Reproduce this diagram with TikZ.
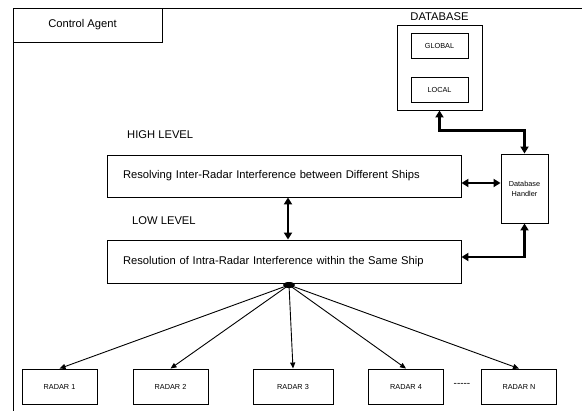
\documentclass[tikz,border=0pt]{standalone}
\usepackage{fontspec}
\setmainfont{Liberation Sans}
\usetikzlibrary{positioning, shapes.geometric, arrows.meta}

\tikzset{
  box/.style={draw, rectangle, line width=0.9pt, inner sep=0pt, align=center},
  bigtext/.style={font=\fontsize{11.2}{13}\selectfont},
  smalltext/.style={font=\fontsize{7.3}{10}\selectfont},
  levellabel/.style={bigtext, anchor=west, inner sep=0pt},
  levelbox/.style={box, bigtext, text width=322pt, align=left, inner xsep=16pt, minimum height=42pt},
  radarbox/.style={box, smalltext, minimum width=75pt, minimum height=35pt},
  biglink/.style={line width=2.4pt, {Triangle[length=7pt,width=8pt]}-{Triangle[length=7pt,width=8pt]}},
  radarlink/.style={line width=0.9pt, -{Triangle[length=6pt,width=5pt]}},
}

\begin{document}
\begin{tikzpicture}[x=1pt, y=-1pt]
    \useasboundingbox (0,0) rectangle (582,411);

    % Frame and agent
    \draw[line width=0.9pt] (582,8) -- (13,8) -- (13,411);
    \node[box, bigtext, minimum width=149pt, minimum height=34pt] (agent) at (87.5,25) {Control Agent\hspace*{10pt}};

    % Database
    \node[box, minimum width=85pt, minimum height=85pt] (db) at (439.5,67.5) {};
    \node[bigtext, above=3pt of db, inner sep=1pt] (dblabel) {DATABASE};
    \node[box, smalltext, minimum width=57pt, minimum height=25pt] (global) at (439.5,45.5) {GLOBAL};
    \node[box, smalltext, minimum width=57pt, minimum height=25pt] (local) at (439.5,89.5) {LOCAL};
    \node[box, smalltext, minimum width=47pt, minimum height=69pt] (handler) at (524.5,188.5) {Database\\Handler};

    % Levels
    \node[levellabel] (highlabel) at (127,134.5) {HIGH LEVEL};
    \node[levelbox] (high) at (284,176) {Resolving Inter-Radar Interference between Different Ships};
    \node[levellabel] (lowlabel) at (132,221) {LOW LEVEL};
    \node[levelbox, minimum height=43pt] (low) at (284,261.5) {Resolution of Intra-Radar Interference within the Same Ship};

    % Radars
    \node[radarbox] (r1) at (59.5,386.5) {RADAR 1};
    \node[radarbox] (r2) at (170.5,386.5) {RADAR 2};
    \node[radarbox, minimum width=80pt] (r3) at (293,386.5) {RADAR 3};
    \node[radarbox] (r4) at (406,386.5) {RADAR 4};
    \node[font=\fontsize{10}{12}\selectfont, inner sep=0pt] (dots) at (462,385) {-{}-{}-{}-{}-};
    \node[radarbox] (rn) at (519,386.5) {RADAR N};

    % Links
    \draw[biglink] (db.south) -- ++(0,20) -| (handler.north);
    \draw[biglink] ([yshift=-7pt]high.east) -- ([yshift=5.5pt]handler.west);
    \draw[biglink] ([xshift=4pt]high.south) -- ([xshift=4pt]low.north);
    \draw[biglink] (handler.south) |- ([yshift=4.5pt]low.east);

    \node[ellipse, fill, minimum width=12pt, minimum height=6pt, inner sep=0pt] (hub) at (289,285) {};
    \draw[radarlink] (hub.center) -- (r1.north);
    \draw[radarlink] (hub.center) -- (r2.north);
    \draw[radarlink] (hub.center) -- (r3.north);
    \draw[radarlink] (hub.center) -- (r4.north);
    \draw[radarlink] (hub.center) -- (rn.north);
  \end{tikzpicture}
\end{document}
